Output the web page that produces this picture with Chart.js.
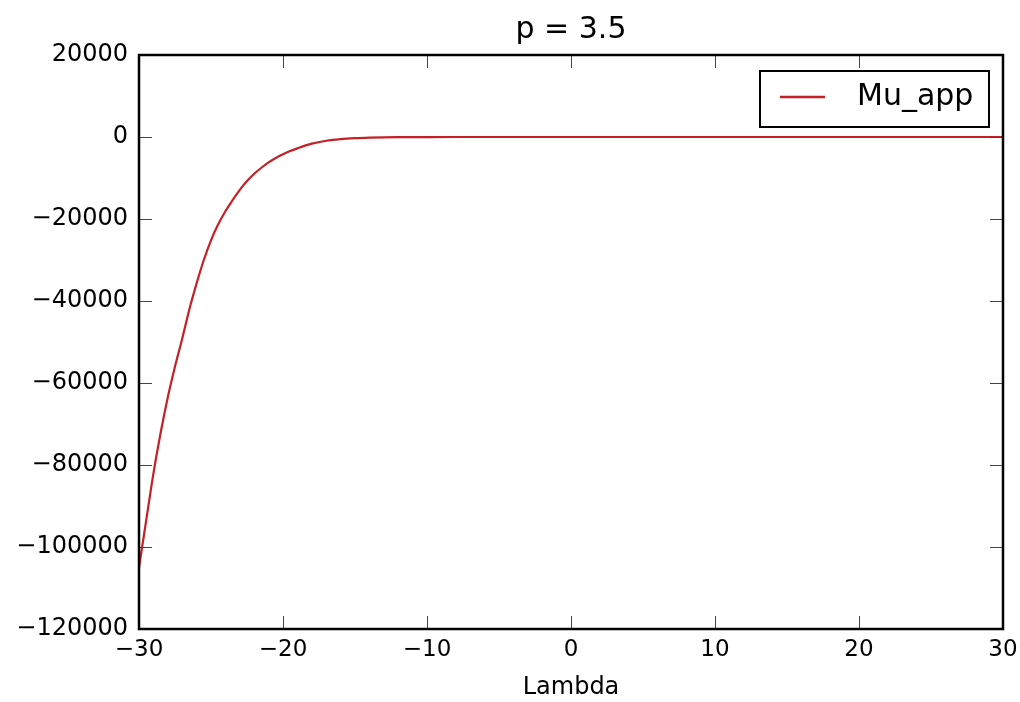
<!DOCTYPE html>
<html>
<head>
<meta charset="utf-8">
<script src="https://cdn.jsdelivr.net/npm/chart.js@4.4.1/dist/chart.umd.min.js"></script>
<style>
  html, body { margin: 0; padding: 0; background: #ffffff; }
  canvas { display: block; }
</style>
</head>
<body>
<canvas id="c" width="1020" height="702"></canvas>
<script>
// ---- data ----
const chartTitle = 'p = 3.5';
const xAxisTitle = 'Lambda';
const seriesName = 'Mu_app';
const lambdaValues = [-30, -29.5, -29, -28.5, -28, -27.5, -27, -26.5, -26, -25.5, -25, -24.5, -24, -23.5, -23, -22.5, -22, -21.5, -21, -20.5, -20, -19.5, -19, -18, -17, -16, -15, -14, -13, -12, -11, -10, -8, -6, -4, -2, 0, 5, 10, 15, 20, 25, 30];
const muValues = [-105000, -93500, -82100, -72200, -63500, -56000, -49200, -42000, -35700, -30000, -25200, -21300, -18100, -15400, -12900, -10750, -8970, -7500, -6200, -5140, -4220, -3430, -2770, -1625, -910, -505, -280, -156, -87, -48, -27, -15, -5, -2, -1, 0, 0, 0, 0, 0, 0, 0, 0];
const xTickValues = [-30, -20, -10, 0, 10, 20, 30];
const xTickLabels = ['\u221230', '\u221220', '\u221210', '0', '10', '20', '30'];
const yTickValues = [20000, 0, -20000, -40000, -60000, -80000, -100000, -120000];
const yTickLabels = ['20000', '0', '\u221220000', '\u221240000', '\u221260000', '\u221280000', '\u2212100000', '\u2212120000'];

const lineColor = '#c42026';

Chart.defaults.font.family = "'DejaVu Sans', sans-serif";
Chart.defaults.color = '#000';

const points = lambdaValues.map((x, i) => ({ x: x, y: muValues[i] }));

function labelFor(values, labels, v) {
  const i = values.findIndex(t => Math.abs(t - v) < 1e-6);
  return i >= 0 ? labels[i] : '';
}

const framePlugin = {
  id: 'frameAndTicks',
  afterDatasetsDraw(chart) {
    const ctx = chart.ctx;
    const a = chart.chartArea;
    const xs = chart.scales.x, ys = chart.scales.y;
    const tl = 13;
    ctx.save();
    // inward ticks on all four sides
    ctx.strokeStyle = '#444';
    ctx.lineWidth = 1;
    ctx.beginPath();
    xs.ticks.forEach(t => {
      const px = Math.round(xs.getPixelForValue(t.value)) + 0.5;
      ctx.moveTo(px, a.bottom); ctx.lineTo(px, a.bottom - tl);
      ctx.moveTo(px, a.top); ctx.lineTo(px, a.top + tl);
    });
    ys.ticks.forEach(t => {
      const py = Math.round(ys.getPixelForValue(t.value)) + 0.5;
      ctx.moveTo(a.left, py); ctx.lineTo(a.left + tl, py);
      ctx.moveTo(a.right, py); ctx.lineTo(a.right - tl, py);
    });
    ctx.stroke();
    // frame
    ctx.strokeStyle = '#000';
    ctx.lineWidth = 2.5;
    ctx.strokeRect(a.left, a.top, a.right - a.left, a.bottom - a.top);
    // title centred over the plot area
    ctx.fillStyle = '#000';
    ctx.font = "30px 'DejaVu Sans', sans-serif";
    ctx.textAlign = 'center';
    ctx.textBaseline = 'middle';
    ctx.fillText(chartTitle, (a.left + a.right) / 2, 30);
    // legend box
    const ds = chart.data.datasets[0];
    const bx = a.right - 243, by = a.top + 16, bw = 229, bh = 56;
    ctx.fillStyle = '#fff';
    ctx.fillRect(bx, by, bw, bh);
    ctx.strokeStyle = '#000';
    ctx.lineWidth = 2;
    ctx.strokeRect(bx, by, bw, bh);
    ctx.strokeStyle = ds.borderColor;
    ctx.lineWidth = 2.5;
    ctx.beginPath();
    ctx.moveTo(bx + 20, by + 26);
    ctx.lineTo(bx + 65, by + 26);
    ctx.stroke();
    ctx.fillStyle = '#000';
    ctx.font = "30px 'DejaVu Sans', sans-serif";
    ctx.textBaseline = 'middle';
    ctx.textAlign = 'left';
    ctx.fillText(ds.label, bx + 97, by + 26);
    ctx.restore();
  }
};

new Chart(document.getElementById('c'), {
  type: 'scatter',
  data: {
    datasets: [{
      label: seriesName,
      data: points,
      showLine: true,
      borderColor: lineColor,
      backgroundColor: lineColor,
      borderWidth: 2.2,
      pointRadius: 0,
      cubicInterpolationMode: 'monotone',
      clip: 2
    }]
  },
  options: {
    responsive: false,
    animation: false,
    layout: { padding: { left: 0, right: 17, top: 55, bottom: 0 } },
    plugins: {
      legend: { display: false },
      tooltip: { enabled: false },
      title: { display: false }
    },
    scales: {
      x: {
        type: 'linear',
        min: -30, max: 30,
        afterBuildTicks(s) { s.ticks = xTickValues.map(v => ({ value: v })); },
        ticks: {
          autoSkip: false,
          maxRotation: 0,
          padding: 7,
          color: '#000',
          font: { size: 23 },
          callback: v => labelFor(xTickValues, xTickLabels, v)
        },
        grid: { display: false, drawTicks: false },
        border: { display: false },
        title: {
          display: true,
          text: xAxisTitle,
          color: '#000',
          font: { size: 24 },
          padding: { top: 0, bottom: 0 }
        },
        afterFit(s) { s.height = 73; s.paddingLeft = 0; s.paddingRight = 0; }
      },
      y: {
        type: 'linear',
        min: -120000, max: 20000,
        afterBuildTicks(s) { s.ticks = yTickValues.map(v => ({ value: v })); },
        ticks: {
          autoSkip: false,
          padding: 11,
          color: '#000',
          font: { size: 24 },
          callback: v => labelFor(yTickValues, yTickLabels, v)
        },
        grid: { display: false, drawTicks: false },
        border: { display: false },
        afterFit(s) { s.width = 139; s.paddingTop = 0; s.paddingBottom = 0; }
      }
    }
  },
  plugins: [framePlugin]
});
</script>
</body>
</html>
